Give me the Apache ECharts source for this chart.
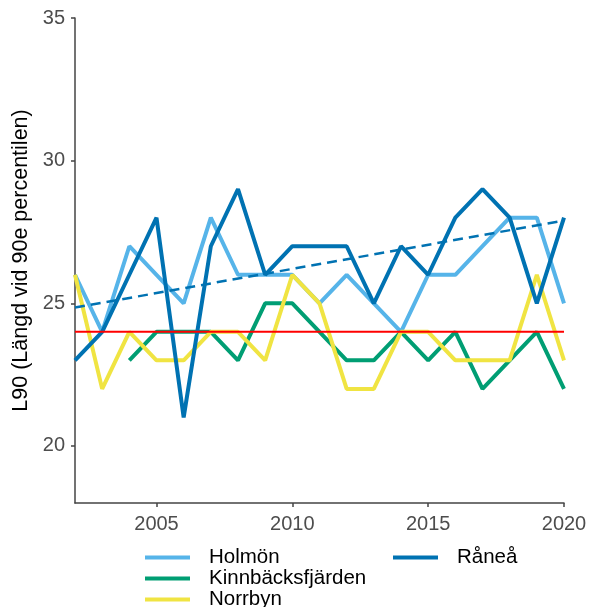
<!DOCTYPE html>
<html>
<head>
<meta charset="utf-8">
<script src="https://cdn.jsdelivr.net/npm/echarts@6/dist/echarts.min.js"></script>
<style>
html,body{margin:0;padding:0;background:#fff;}
#chart{width:590px;height:607px;}
</style>
</head>
<body>
<div id="chart"></div>
<script>
var years = [2002,2003,2004,2005,2006,2007,2008,2009,2010,2011,2012,2013,2014,2015,2016,2017,2018,2019,2020];
var holmon = [26,24,27,26,25,28,26,26,26,25,26,25,24,26,26,27,28,28,25];
var kinnbacksfjarden = [null,null,23,24,24,24,23,25,25,24,23,23,24,23,24,22,23,24,22];
var norrbyn = [26,22,24,23,23,24,24,23,26,25,22,22,24,24,23,23,23,26,23];
var ranea = [23,24,26,28,21,27,29,26,27,27,27,25,27,26,28,29,28,25,28];
var referenceLevel = 24;
var trendYears = [2002, 2020];
var trendValues = [24.85, 27.9];
var xTicks = [2005, 2010, 2015, 2020];
var yTicks = [20, 25, 30, 35];
var legendNames = ['Holmön', 'Kinnbäcksfjärden', 'Norrbyn', 'Råneå'];

function pairs(xs, ys){ return xs.map(function(x,i){ return [x, ys[i]]; }); }

var FONT = '"Liberation Sans", Arial, sans-serif';
var colors = {
  'Holmön': '#56B4E9',
  'Kinnbäcksfjärden': '#009E73',
  'Norrbyn': '#F0E442',
  'Råneå': '#0072B2'
};

function lineSeries(name, vals){
  return {
    name: name, type: 'line', data: pairs(years, vals),
    showSymbol: false, symbol: 'none', connectNulls: false,
    lineStyle: { width: 4, color: colors[name] },
    itemStyle: { color: colors[name] },
    silent: true, animation: false
  };
}

var legendPos = [[140, 542], [140, 563], [140, 584], [388, 542]];
var legends = legendNames.map(function(n, i){
  return {
    orient: 'vertical',
    left: legendPos[i][0], top: legendPos[i][1],
    itemWidth: 45, itemHeight: 4, itemGap: 0,
    icon: 'rect', selectedMode: false,
    data: [n],
    textStyle: { fontFamily: FONT, fontSize: 20.5, color: '#000', lineHeight: 21, padding: [0,0,0,14] }
  };
});

var chart = echarts.init(document.getElementById('chart'), null, {renderer: 'canvas'});
chart.setOption({
  animation: false,
  backgroundColor: '#fff',
  grid: { left: 75, right: 26, top: 18, bottom: 104 },
  legend: legends,
  xAxis: {
    type: 'value', min: 2002, max: 2020,
    splitLine: { show: false },
    axisLine: { show: true, lineStyle: { color: '#444', width: 1.5 } },
    axisTick: { show: true, customValues: xTicks, length: 4, lineStyle: { color: '#444', width: 1.5 } },
    axisLabel: { customValues: xTicks, formatter: function(v){ return String(v); },
      fontFamily: FONT, fontSize: 20, color: '#4D4D4D', margin: 11 }
  },
  yAxis: {
    type: 'value', min: 18, max: 35,
    name: 'L90 (Längd vid 90e percentilen)',
    nameLocation: 'middle', nameRotate: 90, nameGap: 36,
    nameTextStyle: { fontFamily: FONT, fontSize: 21.5, color: '#000' },
    splitLine: { show: false },
    axisLine: { show: true, lineStyle: { color: '#444', width: 1.5 } },
    axisTick: { show: true, customValues: yTicks, length: 4, lineStyle: { color: '#444', width: 1.5 } },
    axisLabel: { customValues: yTicks, formatter: function(v){ return String(v); },
      fontFamily: FONT, fontSize: 20, color: '#4D4D4D', margin: 10 }
  },
  series: [
    lineSeries('Holmön', holmon),
    lineSeries('Kinnbäcksfjärden', kinnbacksfjarden),
    lineSeries('Norrbyn', norrbyn),
    lineSeries('Råneå', ranea),
    {
      name: 'ref', type: 'line', data: pairs(trendYears, [referenceLevel, referenceLevel]),
      showSymbol: false, symbol: 'none', silent: true,
      lineStyle: { width: 2, color: '#FF0000' }
    },
    {
      name: 'trend', type: 'line', data: pairs(trendYears, trendValues),
      showSymbol: false, symbol: 'none', silent: true,
      lineStyle: { width: 2.5, color: '#0072B2', type: [10, 6] }
    }
  ]
});
</script>
</body>
</html>
